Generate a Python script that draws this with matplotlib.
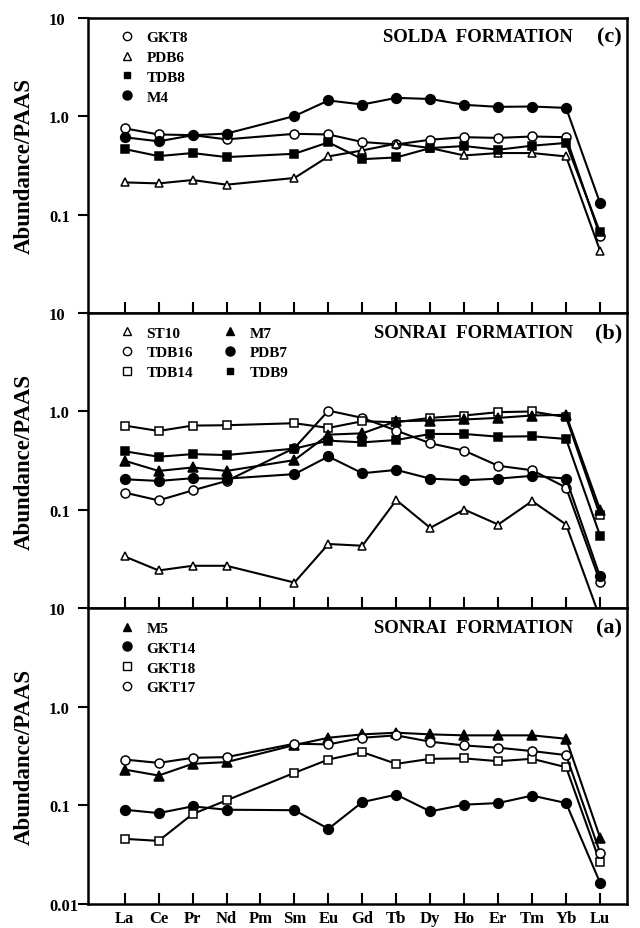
import numpy as np
import matplotlib
matplotlib.use("Agg")
import matplotlib.pyplot as plt
from matplotlib.lines import Line2D

plt.rcParams['font.family'] = ['Liberation Serif', 'DejaVu Serif']
plt.rcParams['font.weight'] = 'bold'

elements = ['La', 'Ce', 'Pr', 'Nd', 'Pm', 'Sm', 'Eu', 'Gd', 'Tb', 'Dy',
            'Ho', 'Er', 'Tm', 'Yb', 'Lu']
nan = np.nan

# (c) Solda Formation
gkt8 = [0.75, 0.65, 0.64, 0.58, nan, 0.66, 0.65, 0.545, 0.515, 0.575, 0.61, 0.60, 0.62, 0.61, 0.061]
pdb6 = [0.212, 0.207, 0.224, 0.201, nan, 0.235, 0.389, 0.448, 0.525, 0.473, 0.398, 0.421, 0.421, 0.389, 0.043]
tdb8 = [0.462, 0.392, 0.421, 0.383, nan, 0.414, 0.541, 0.365, 0.38, 0.473, 0.496, 0.455, 0.50, 0.533, 0.066]
m4 = [0.609, 0.554, 0.638, 0.664, nan, 1.0, 1.44, 1.31, 1.53, 1.49, 1.30, 1.24, 1.25, 1.21, 0.131]

# (b) Sonrai Formation
st10 = [0.0337, 0.0243, 0.0271, 0.0271, nan, 0.0183, 0.0451, 0.0433, 0.126, 0.0658, 0.101, 0.0711, 0.123, 0.0711, 0.008]
tdb16 = [0.150, 0.125, 0.158, 0.197, nan, 0.425, 1.02, 0.861, 0.64, 0.475, 0.40, 0.281, 0.253, 0.169, 0.0187]
tdb14 = [0.719, 0.634, 0.719, 0.725, nan, 0.76, 0.681, 0.796, 0.778, 0.861, 0.91, 0.984, 1.0, 0.875, 0.0879]
m7 = [0.316, 0.249, 0.27, 0.249, nan, 0.321, 0.582, 0.60, 0.796, 0.809, 0.829, 0.861, 0.91, 0.925, 0.101]
pdb7 = [0.205, 0.197, 0.21, 0.208, nan, 0.231, 0.349, 0.236, 0.255, 0.208, 0.20, 0.208, 0.222, 0.208, 0.0211]
tdb9 = [0.394, 0.347, 0.369, 0.361, nan, 0.42, 0.505, 0.486, 0.513, 0.591, 0.591, 0.555, 0.56, 0.526, 0.0549]

# (a) Sonrai Formation
m5 = [0.231, 0.201, 0.264, 0.275, nan, 0.41, 0.486, 0.526, 0.547, 0.526, 0.514, 0.514, 0.514, 0.475, 0.0471]
gkt14 = [0.0903, 0.0835, 0.0977, 0.0903, nan, 0.0893, 0.0578, 0.108, 0.1285, 0.0869, 0.1016, 0.1056, 0.1256, 0.1056, 0.0164]
gkt18 = [0.0457, 0.0436, 0.0816, 0.1125, nan, 0.214, 0.292, 0.347, 0.264, 0.297, 0.30, 0.281, 0.297, 0.244, 0.0264]
gkt17 = [0.292, 0.27, 0.304, 0.309, nan, 0.423, 0.416, 0.486, 0.514, 0.443, 0.406, 0.385, 0.356, 0.324, 0.0331]

styles = {
    'open_circle': dict(marker='o', mfc='white', ms=6.5),
    'open_tri': dict(marker='^', mfc='white', ms=6),
    'open_sq': dict(marker='s', mfc='white', ms=6),
    'fill_circle': dict(marker='o', mfc='black', ms=7),
    'fill_tri': dict(marker='^', mfc='black', ms=6.5),
    'fill_sq': dict(marker='s', mfc='black', ms=5.5),
}

panels = [
    ('SOLDA  FORMATION', '(c)', 1,
     [('GKT8', gkt8, 'open_circle'), ('PDB6', pdb6, 'open_tri'),
      ('TDB8', tdb8, 'fill_sq'), ('M4', m4, 'fill_circle')]),
    ('SONRAI  FORMATION', '(b)', 2,
     [('ST10', st10, 'open_tri'), ('TDB16', tdb16, 'open_circle'),
      ('TDB14', tdb14, 'open_sq'), ('M7', m7, 'fill_tri'),
      ('PDB7', pdb7, 'fill_circle'), ('TDB9', tdb9, 'fill_sq')]),
    ('SONRAI  FORMATION', '(a)', 1,
     [('M5', m5, 'fill_tri'), ('GKT14', gkt14, 'fill_circle'),
      ('GKT18', gkt18, 'open_sq'), ('GKT17', gkt17, 'open_circle')]),
]

fig = plt.figure(figsize=(6.4, 9.29), dpi=100)
gs = fig.add_gridspec(3, 1, left=0.1375, right=0.98, top=0.98, bottom=0.026, hspace=0)
x = np.arange(len(elements))

for i, (title, tag, ncol, series) in enumerate(panels):
    ax = fig.add_subplot(gs[i])
    handles = []
    for name, vals, st in series:
        v = np.array(vals, dtype=float)
        ok = np.isfinite(v)
        ax.plot(x[ok], v[ok], color='black', lw=1.5, mec='black', mew=1.1, **styles[st])
        handles.append(Line2D([], [], ls='none', color='black', mec='black',
                              mew=1.0, label=name, **{**styles[st], 'ms': styles[st]['ms'] - 0.5}))
    ax.set_yscale('log')
    ax.set_ylim(0.01, 10)
    ax.set_xlim(-1.08, 14.8)
    ax.minorticks_off()
    ax.set_xticks(x)
    if i == 2:
        ax.set_yticks([0.01, 0.1, 1, 10])
        ax.set_yticklabels(['0.01', '0.1', '1.0', '10'])
        ax.set_xticklabels(elements, fontsize=12, fontweight='bold')
    else:
        ax.set_yticks([0.1, 1, 10])
        ax.set_yticklabels(['0.1', '1.0', '10'])
        ax.tick_params(axis='x', labelbottom=False)
    ax.tick_params(axis='y', direction='out', length=7.5, width=1.5, labelsize=12, pad=20.5)
    for lab in ax.get_yticklabels():
        lab.set_horizontalalignment('left')
    ax.tick_params(axis='x', direction='in', length=8, width=1.5, pad=4.5)
    for sp in ax.spines.values():
        sp.set_linewidth(1.8)
    ax.set_ylabel('Abundance/PAAS', fontsize=16.5, fontweight='bold')
    ax.yaxis.set_label_coords(-0.098, 0.5)
    ax.text(0.90, 0.935, title, transform=ax.transAxes, ha='right', va='center',
            fontsize=13.5, fontweight='bold')
    ax.text(0.99, 0.935, tag, transform=ax.transAxes, ha='right', va='center',
            fontsize=16, fontweight='bold')
    ax.legend(handles=handles, ncol=ncol, loc='upper left', bbox_to_anchor=(0.035, 1.003),
              frameon=False, handlelength=0.8, handletextpad=0.9, labelspacing=0.4,
              columnspacing=2.0, prop={'family': ['Liberation Serif'], 'weight': 'bold', 'size': 11})

fig.savefig('out.png', dpi=100)
